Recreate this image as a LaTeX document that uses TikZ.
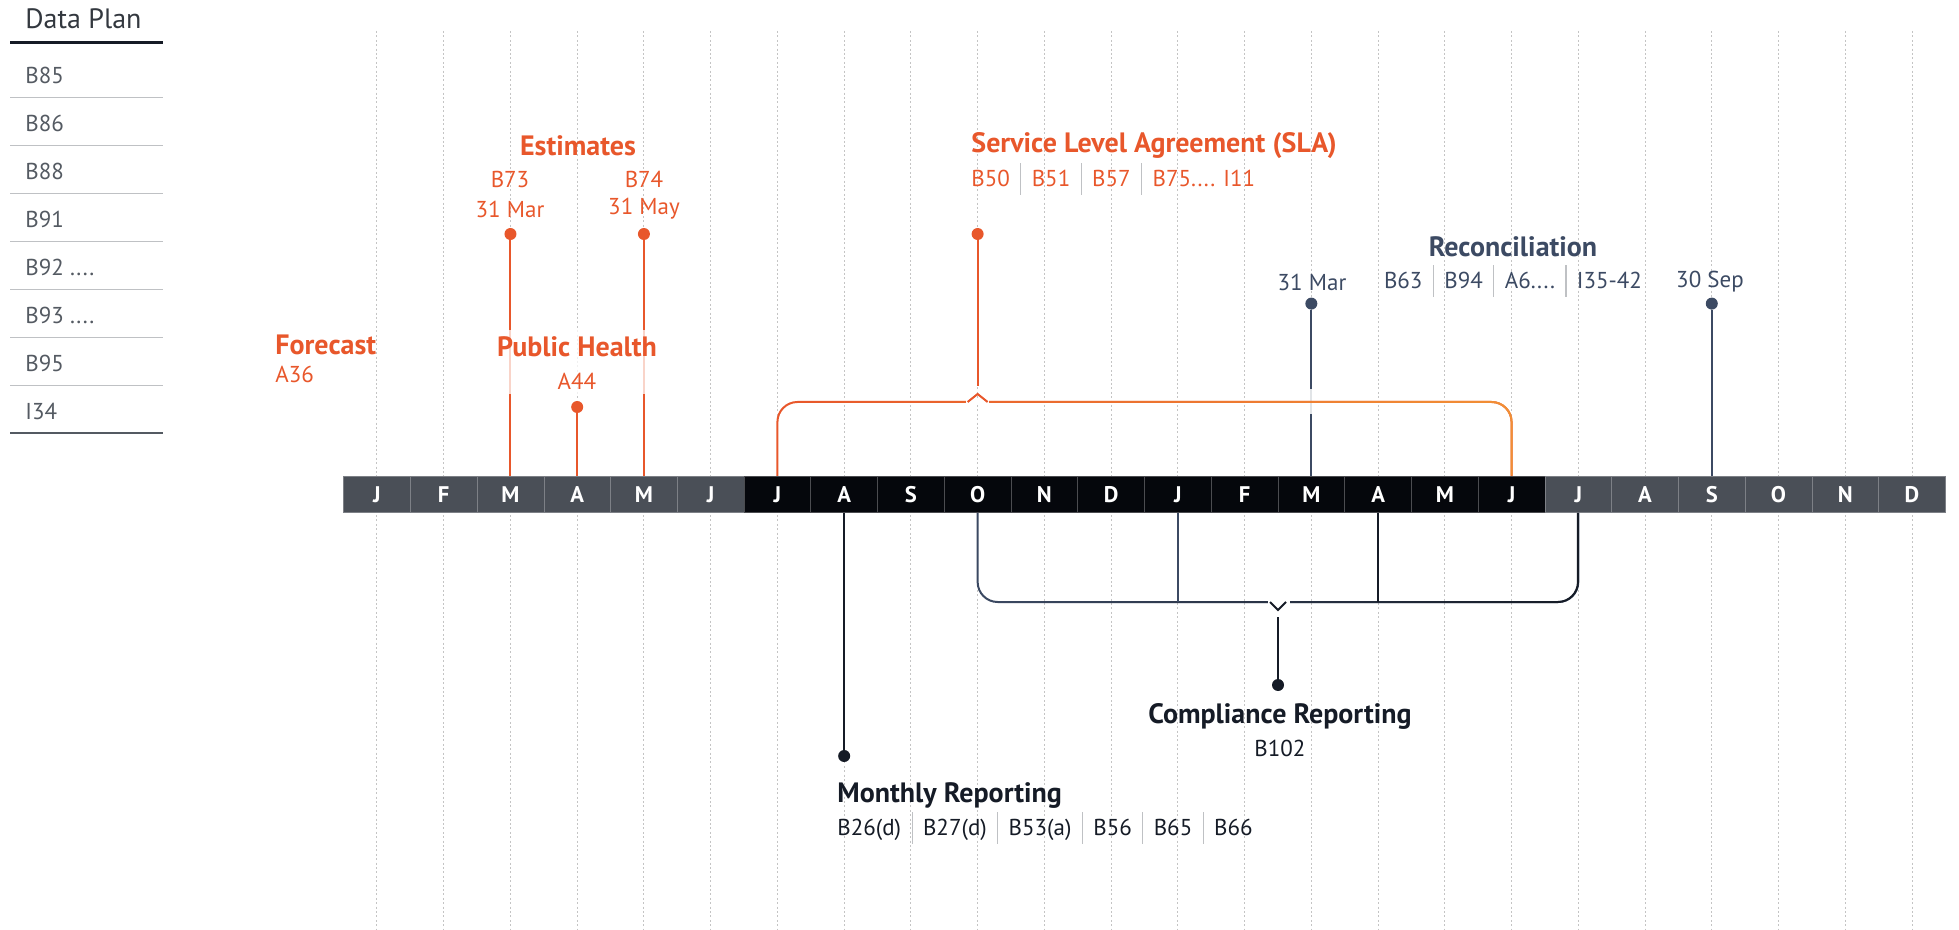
\documentclass[tikz,border=0pt]{standalone}
\usepackage{fontspec}
\setmainfont{PT Sans}
\usetikzlibrary{positioning,fadings}

\definecolor{planorange}{HTML}{E8572B}
\definecolor{planamber}{HTML}{F29036}
\definecolor{plannavy}{HTML}{3C4A63}
\definecolor{planink}{HTML}{151B26}
\definecolor{plangray}{HTML}{4A4F57}
\definecolor{planblack}{HTML}{05070C}
\definecolor{planrow}{HTML}{545A62}
\definecolor{plantitle}{HTML}{33383F}
\definecolor{planrule}{HTML}{BFC1C4}
\definecolor{plangrid}{HTML}{C4C4C4}

\tikzset{
  gridline/.style={plangrid, line width=0.5pt, dash pattern=on 1pt off 1.2pt},
  cell/.style={minimum width=33.37pt, minimum height=18.25pt, inner sep=0pt,
    text=white, line width=0.3pt, font=\bfseries\fontsize{11.3}{11.3}\selectfont},
  dot/.style={circle, inner sep=0pt, minimum size=6pt},
  headline/.style={font=\bfseries\fontsize{14}{15}\selectfont, inner sep=1pt},
  refline/.style={font=\fontsize{11.5}{13}\selectfont, inner sep=1pt},
  stem/.style={line width=1pt},
  rowrule/.style={planrule, line width=0.6pt}
}
\newcommand{\plansep}{\hspace{0.45em}{\color{planrule}\rule[-0.35em]{0.6pt}{1.35em}}\hspace{0.45em}}
\newcommand{\planmore}{....}

\begin{document}
\begin{tikzpicture}[x=0.5pt, y=-0.5pt]
    \useasboundingbox (0,0) rectangle (1959,930);

    % Data plan list
    \node[anchor=west, text=plantitle, inner sep=1pt, font=\fontsize{14}{15}\selectfont] (dataplan) at (23,19) {Data Plan};
    \draw[planink, line width=1.3pt] (10,42.5) -- (163,42.5);
    \foreach \r [count=\k from 0] in {B85,B86,B88,B91,{B92 \planmore},{B93 \planmore},B95,I34} {
        \node[refline, anchor=west, text=planrow] (row\k) at (23,{75+48*\k}) {\r};
        \draw[rowrule] (10,{97.5+48*\k}) -- (163,{97.5+48*\k});
    }
    \draw[planrow, line width=1pt] (10,433.5) -- (163,433.5);

    % Month grid
    \foreach \i in {0,...,23}
        \draw[gridline] ({343.6+66.74*(\i+0.5)},31) -- ({343.6+66.74*(\i+0.5)},930);

    % Month bar
    \foreach \m [count=\i from 0] in {J,F,M,A,M,J,J,A,S,O,N,D,J,F,M,A,M,J,J,A,S,O,N,D} {
        \ifnum\i<6 \def\cellcol{plangray}\else\ifnum\i<18 \def\cellcol{planblack}\else\def\cellcol{plangray}\fi\fi
        \node[cell, fill=\cellcol, draw=\cellcol!72!white] (m\i) at ({343.6+66.74*(\i+0.5)},494.3) {\m};
    }

    % Forecast
    \node[headline, anchor=west, text=planorange] (forecast) at (273,345) {Forecast};
    \node[refline, anchor=west, text=planorange] (a36) at (273,374) {A36};

    % Estimates
    \node[headline, text=planorange] (estimates) at (578,146) {Estimates};
    \node[refline, text=planorange] (b73) at (510,179) {B73};
    \node[refline, text=planorange] (mar31) at (510,209) {31 Mar};
    \node[refline, text=planorange] (b74) at (644,179) {B74};
    \node[refline, text=planorange] (may31) at (644,209) {31 May};
    \node[dot, fill=planorange] (b73dot) at (m2 |- 0,234) {};
    \node[dot, fill=planorange] (b74dot) at (m4 |- 0,234) {};
    \draw[stem, planorange] (b73dot) -- (m2.north);
    \draw[stem, planorange] (b74dot) -- (m4.north);

    % Public health
    \node[dot, fill=planorange] (a44dot) at (m3 |- 0,407) {};
    \draw[stem, planorange] (a44dot) -- (m3.north);
    \fill[white, opacity=.75] (492,330) rectangle (662,394);
    \node[headline, text=planorange] (health) at (577,347) {Public Health};
    \node[refline, text=planorange] (a44) at (577,381) {A44};

    % Service level agreement
    \node[headline, anchor=west, text=planorange] (sla) at (969,146) {Service Level Agreement (SLA)};
    \node[refline, anchor=west, text=planorange] (slarefs) at (969,179) {B50\plansep B51\plansep B57\plansep B75\planmore{} I11};
    \node[dot, fill=planorange] (sladot) at (m9 |- 0,234) {};
    \coordinate (slanotch) at (m9 |- 0,386);
    \draw[stem, planorange] (sladot) -- (slanotch);

    % Reconciliation
    \node[headline, text=plannavy] (recon) at (1513,247) {Reconciliation};
    \node[refline, text=plannavy] (reconrefs) at (1513,281) {B63\plansep B94\plansep A6\planmore\plansep I35-42};
    \node[refline, text=plannavy] (recmar) at (1312,282) {31 Mar};
    \node[refline, text=plannavy] (recsep) at (1710,282) {30 Sep};
    \node[dot, fill=plannavy] (recmardot) at (m14 |- 0,303.6) {};
    \node[dot, fill=plannavy] (recsepdot) at (m20 |- 0,303.6) {};
    \draw[stem, plannavy] (recmardot) -- (m14.north);
    \draw[stem, plannavy] (recsepdot) -- (m20.north);
    \draw[white, line width=3pt, opacity=.85] (m14 |- 0,389) -- (m14 |- 0,414);

    % SLA bracket
    \draw[stem, planorange, rounded corners=10pt] (m6.north) -- (m6 |- 0,402) -- (m17 |- 0,402) -- (m17.north);
    \draw[stem, planamber, rounded corners=10pt, path fading=west] (m6.north) -- (m6 |- 0,402) -- (m17 |- 0,402) -- (m17.north);
    \fill[white] (966,404.5) rectangle (989,399);
    \draw[stem, planorange] (967.6,402) -- (977.6,394) -- (987.6,402);

    % Monthly reporting
    \node[dot, fill=planink] (monthlydot) at (m7 |- 0,756) {};
    \draw[stem, planink] (m7.south) -- (monthlydot);
    \node[headline, anchor=west, text=planink] (monthly) at (835,796) {Monthly Reporting};
    \node[refline, anchor=west, text=planink] (monthlyrefs) at (835,828) {B26(d)\plansep B27(d)\plansep B53(a)\plansep B56\plansep B65\plansep B66};

    % Compliance reporting
    \draw[stem, plannavy, rounded corners=10pt] (m9.south) -- (m9 |- 0,602) -- (m18 |- 0,602) -- (m18.south);
    \draw[stem, planink, rounded corners=10pt, path fading=west] (m9.south) -- (m9 |- 0,602) -- (m18 |- 0,602) -- (m18.south);
    \draw[stem, plannavy] (m12.south) -- (m12 |- 0,602);
    \draw[stem, planink] (m15.south) -- (m15 |- 0,602);
    \fill[white] (1268,599.5) rectangle (1290,605);
    \draw[stem, planink] (1270,602) -- (1278,610) -- (1286,602);
    \coordinate (compnotch) at (1278,617);
    \node[dot, fill=planink] (compdot) at (1278,685) {};
    \draw[stem, planink] (compnotch) -- (compdot);
    \node[headline, text=planink] (compliance) at (1280,716) {Compliance Reporting};
    \node[refline, text=planink] (b102) at (1280,748) {B102};
\end{tikzpicture}
\end{document}
